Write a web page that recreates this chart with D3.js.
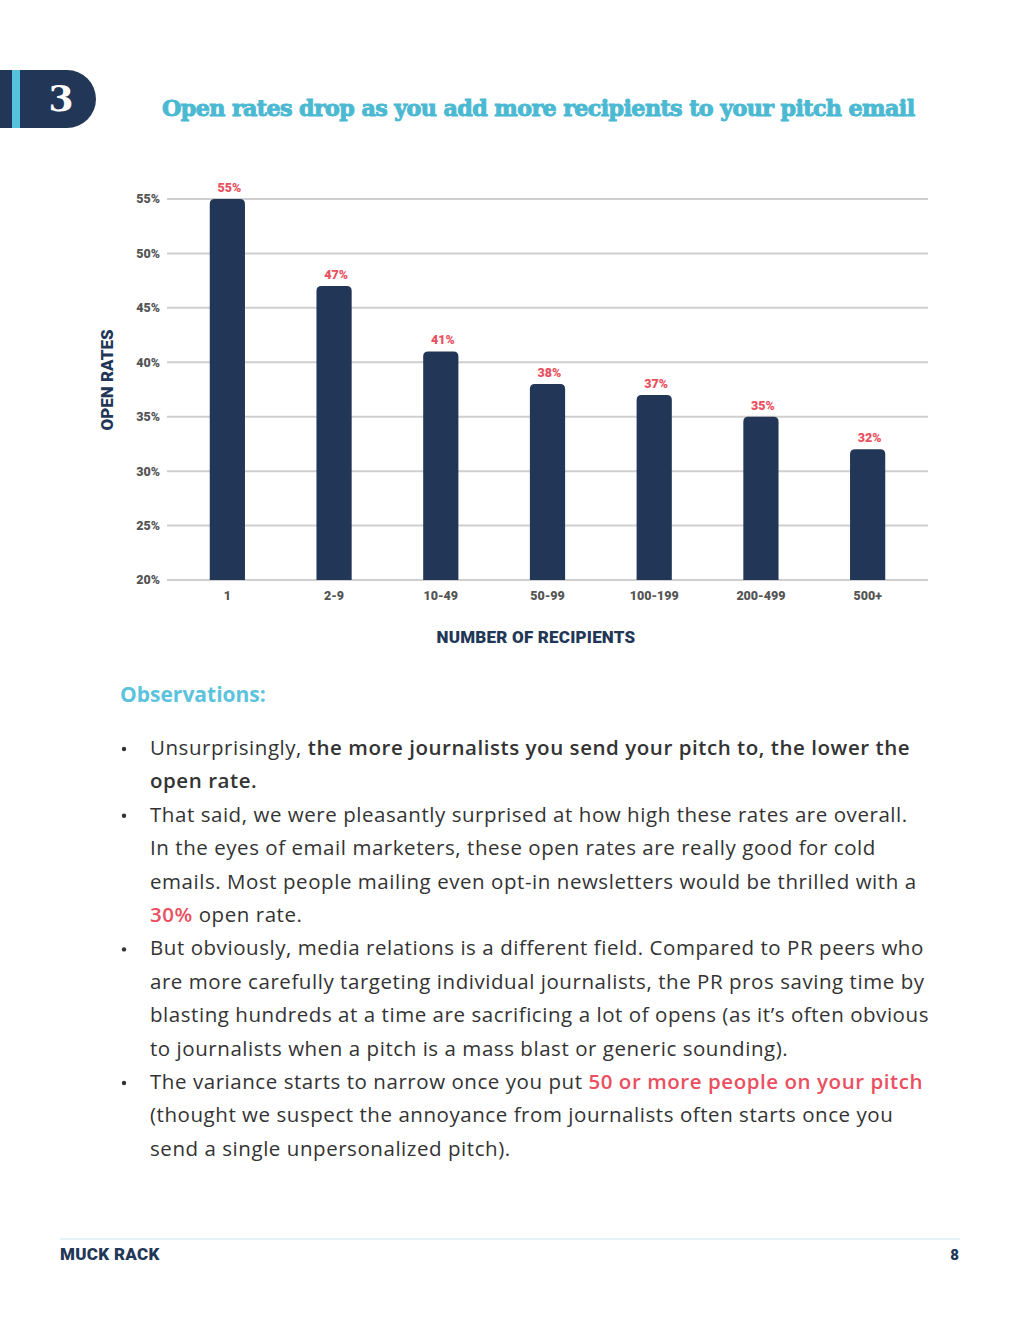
<!DOCTYPE html>
<html>
<head>
<meta charset="utf-8">
<script src="https://cdn.jsdelivr.net/npm/d3@7"></script>
<style>
  html, body { margin: 0; padding: 0; background: #fff; }
  svg { display: block; }
</style>
</head>
<body>
<svg id="page" width="1020" height="1320"></svg>
<script>
// Open rates by number of recipients on a pitch email
const categories = ["1", "2-9", "10-49", "50-99", "100-199", "200-499", "500+"];
const openRates = [55, 47, 41, 38, 37, 35, 32];
const yTicks = [20, 25, 30, 35, 40, 45, 50, 55];

// observations text, one entry per rendered line; segments are [text, style]
const observationLines = [
  { bullet: true, parts: [["Unsurprisingly, ", "n"], ["the more journalists you send your pitch to, the lower the", "b"]] },
  { bullet: false, parts: [["open rate.", "b"]] },
  { bullet: true, parts: [["That said, we were pleasantly surprised at how high these rates are overall.", "n"]] },
  { bullet: false, parts: [["In the eyes of email marketers, these open rates are really good for cold", "n"]] },
  { bullet: false, parts: [["emails. Most people mailing even opt-in newsletters would be thrilled with a", "n"]] },
  { bullet: false, parts: [["30%", "r"], [" open rate.", "n"]] },
  { bullet: true, parts: [["But obviously, media relations is a different field. Compared to PR peers who", "n"]] },
  { bullet: false, parts: [["are more carefully targeting individual journalists, the PR pros saving time by", "n"]] },
  { bullet: false, parts: [["blasting hundreds at a time are sacrificing a lot of opens (as it\u2019s often obvious", "n"]] },
  { bullet: false, parts: [["to journalists when a pitch is a mass blast or generic sounding).", "n"]] },
  { bullet: true, parts: [["The variance starts to narrow once you put ", "n"], ["50 or more people on your pitch", "r"]] },
  { bullet: false, parts: [["(thought we suspect the annoyance from journalists often starts once you", "n"]] },
  { bullet: false, parts: [["send a single unpersonalized pitch).", "n"]] },
];

const NAVY = "#223757", TEAL = "#4cb9d2", RED = "#ea5060", GRID = "#cfcfcf";
const HEAVY = "Roboto, 'Open Sans', sans-serif";
const BODY = "'Open Sans', sans-serif";

const svg = d3.select("#page");

// header badge
const badge = svg.append("g");
badge.append("path")
  .attr("d", "M0,70 H67 A29,29 0 0 1 67,128 H0 Z")
  .attr("fill", NAVY);
badge.append("rect").attr("x", 12).attr("y", 70).attr("width", 8).attr("height", 58).attr("fill", "#56c3de");
badge.append("text").attr("x", 61).attr("y", 111)
  .attr("text-anchor", "middle")
  .style("font", "bold 36px 'DejaVu Serif', serif").style("fill", "#fff")
  .text("3");

const title = svg.append("text").attr("x", 162).attr("y", 116)
  .style("font", "bold 26px 'DejaVu Serif', serif").style("fill", TEAL)
  .style("stroke", TEAL).style("stroke-width", 1)
  .style("letter-spacing", "-0.6px")
  .text("Open rates drop as you add more recipients to your pitch email");
// fit title into the same span as the reference (162 → 920)
const tw = title.node().getComputedTextLength();
title.style("font-size", `${26 * 758 / tw}px`);

// chart
const x = d3.scaleBand().domain(categories).range([174, 921]).padding(0);
const BAR_W = x.bandwidth() * 0.33;
const y = d3.scaleLinear().domain([20, 55]).range([580, 199]);
const GRID_L = 167, GRID_R = 928;
const cx = (c) => x(c) + x.bandwidth() / 2;

const g = svg.append("g");

g.selectAll("line.grid").data(yTicks).enter().append("line")
  .attr("class", "grid")
  .attr("x1", GRID_L).attr("x2", GRID_R)
  .attr("y1", (d) => y(d)).attr("y2", (d) => y(d))
  .attr("stroke", GRID).attr("stroke-width", 2);

g.selectAll("text.ytick").data(yTicks).enter().append("text")
  .attr("class", "ytick")
  .attr("x", 160).attr("y", (d) => y(d)).attr("dy", "0.35em")
  .attr("text-anchor", "end")
  .style("font", `900 12.5px ${HEAVY}`).style("fill", "#555")
  .text((d) => `${d}%`);

const r = 5;
const barPath = (d, i) => {
  const x0 = cx(categories[i]) - BAR_W / 2, w = BAR_W;
  const top = y(d), base = y(20);
  return `M${x0},${base} V${top + r} Q${x0},${top} ${x0 + r},${top} H${x0 + w - r} Q${x0 + w},${top} ${x0 + w},${top + r} V${base} Z`;
};

g.selectAll("path.bar").data(openRates).enter().append("path")
  .attr("class", "bar")
  .attr("d", barPath)
  .attr("fill", NAVY);

g.selectAll("text.val").data(openRates).enter().append("text")
  .attr("class", "val")
  .attr("x", (d, i) => cx(categories[i]) + 2)
  .attr("y", (d) => y(d) - 7)
  .attr("text-anchor", "middle")
  .style("font", `900 12.5px ${HEAVY}`).style("fill", RED)
  .text((d) => `${d}%`);

g.selectAll("text.xtick").data(categories).enter().append("text")
  .attr("class", "xtick")
  .attr("x", (d) => cx(d))
  .attr("y", 600)
  .attr("text-anchor", "middle")
  .style("font", `900 12.5px ${HEAVY}`).style("fill", "#555")
  .text((d) => d);

g.append("text")
  .attr("x", 536).attr("y", 643)
  .attr("text-anchor", "middle")
  .style("font", `900 17px ${HEAVY}`).style("fill", NAVY).style("letter-spacing", "0.2px")
  .text("NUMBER OF RECIPIENTS");

g.append("text")
  .attr("transform", `translate(113,380) rotate(-90)`)
  .attr("text-anchor", "middle")
  .style("font", `900 17px ${HEAVY}`).style("fill", NAVY)
  .text("OPEN RATES");

// observations
svg.append("text").attr("x", 120).attr("y", 702)
  .style("font", `bold 21px ${BODY}`).style("fill", "#5cc3dc")
  .text("Observations:");

const LINE0 = 755, LH = 33.4;
const lines = svg.append("g");
observationLines.forEach((ln, i) => {
  const yy = LINE0 + i * LH;
  if (ln.bullet) {
    lines.append("circle").attr("cx", 124).attr("cy", yy - 6).attr("r", 2.2).attr("fill", "#333");
  }
  const t = lines.append("text").attr("x", 150).attr("y", yy)
    .style("font", `20.5px ${BODY}`).style("fill", "#333").style("letter-spacing", "0.55px");
  ln.parts.forEach(([txt, s]) => {
    t.append("tspan")
      .style("font-weight", s === "n" ? 400 : 600)
      .style("fill", s === "r" ? RED : "#333")
      .text(txt);
  });
});

// footer
svg.append("line").attr("x1", 60).attr("x2", 960).attr("y1", 1239).attr("y2", 1239)
  .attr("stroke", "#c6e6ee").attr("stroke-width", 1);
svg.append("text").attr("x", 60).attr("y", 1260)
  .style("font", `900 17px ${HEAVY}`).style("fill", NAVY).style("letter-spacing", "0.3px")
  .text("MUCK RACK");
svg.append("text").attr("x", 959).attr("y", 1260).attr("text-anchor", "end")
  .style("font", `900 15px ${HEAVY}`).style("fill", NAVY)
  .text("8");
</script>
</body>
</html>
